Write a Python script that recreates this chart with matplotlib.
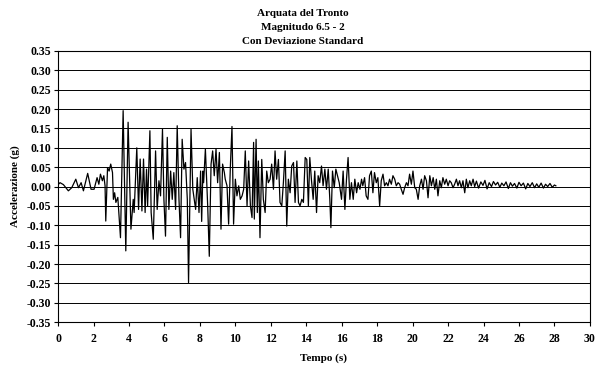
import numpy as np
import matplotlib
matplotlib.use("Agg")
from matplotlib import pyplot as plt
from matplotlib.ticker import MultipleLocator

# accelerogram turning points (time s, acceleration g)
tempo = [0.00, 0.11, 0.30, 0.58, 0.77, 1.00, 1.15, 1.30, 1.43, 1.67, 1.86, 2.03,
         2.20, 2.30, 2.39, 2.50, 2.58, 2.65, 2.69, 2.79, 2.88, 2.97, 3.07, 3.12,
         3.19, 3.26, 3.37, 3.52, 3.67, 3.82, 3.95, 4.11, 4.24, 4.29, 4.44, 4.54,
         4.63, 4.73, 4.82, 4.91, 4.99, 5.05, 5.18, 5.25, 5.37, 5.50, 5.59, 5.69,
         5.78, 5.89, 5.97, 6.06, 6.16, 6.25, 6.35, 6.44, 6.53, 6.63, 6.72, 6.82,
         6.91, 7.00, 7.10, 7.19, 7.29, 7.36, 7.50, 7.60, 7.76, 7.85, 7.95, 8.04,
         8.10, 8.17, 8.21, 8.31, 8.44, 8.53, 8.63, 8.72, 8.81, 8.91, 9.00, 9.10,
         9.19, 9.28, 9.38, 9.43, 9.53, 9.62, 9.72, 9.81, 9.90, 10.00, 10.09, 10.19,
         10.28, 10.38, 10.47, 10.56, 10.66, 10.75, 10.85, 10.94, 11.03, 11.07, 11.17, 11.24,
         11.30, 11.39, 11.49, 11.58, 11.68, 11.77, 11.86, 11.96, 12.05, 12.15, 12.24, 12.33,
         12.43, 12.52, 12.62, 12.71, 12.81, 12.90, 12.99, 13.09, 13.18, 13.28, 13.37, 13.47,
         13.56, 13.65, 13.75, 13.84, 13.94, 14.03, 14.12, 14.20, 14.29, 14.39, 14.48, 14.58,
         14.67, 14.76, 14.86, 14.95, 15.05, 15.14, 15.24, 15.33, 15.39, 15.48, 15.58, 15.67,
         15.76, 15.86, 15.99, 16.08, 16.18, 16.27, 16.36, 16.46, 16.55, 16.65, 16.74, 16.84,
         16.93, 17.03, 17.12, 17.19, 17.29, 17.38, 17.48, 17.57, 17.67, 17.76, 17.85, 17.95,
         18.04, 18.14, 18.23, 18.33, 18.42, 18.52, 18.61, 18.70, 18.80, 18.89, 18.99, 19.08,
         19.18, 19.27, 19.36, 19.46, 19.55, 19.65, 19.74, 19.83, 19.93, 20.02, 20.12, 20.21,
         20.31, 20.40, 20.50, 20.59, 20.68, 20.78, 20.87, 20.97, 21.06, 21.16, 21.25, 21.34,
         21.43, 21.53, 21.62, 21.71, 21.81, 21.90, 22.00, 22.09, 22.18, 22.28, 22.37, 22.47,
         22.56, 22.65, 22.75, 22.84, 22.94, 23.03, 23.12, 23.22, 23.31, 23.41, 23.50, 23.60,
         23.72, 23.85, 23.97, 24.08, 24.20, 24.32, 24.45, 24.56, 24.68, 24.80, 24.92, 25.03,
         25.15, 25.27, 25.40, 25.52, 25.63, 25.75, 25.88, 26.00, 26.12, 26.25, 26.38, 26.50,
         26.62, 26.75, 26.88, 27.00, 27.12, 27.25, 27.38, 27.50, 27.62, 27.75, 27.88, 28.00,
         28.08]
accel = [0.005, 0.010, 0.005, -0.011, -0.003, 0.019, -0.003, 0.010, -0.011, 0.034, -0.007, -0.007,
         0.023, 0.006, 0.032, 0.015, 0.028, 0.002, -0.089, 0.049, 0.040, 0.058, 0.036, -0.033,
         -0.016, -0.041, -0.028, -0.132, 0.196, -0.166, 0.166, -0.110, -0.033, -0.067, 0.100, -0.059,
         0.071, -0.063, 0.071, -0.067, 0.045, -0.050, 0.144, -0.067, -0.136, 0.092, -0.059, 0.015,
         -0.024, 0.148, -0.033, -0.128, 0.127, -0.059, 0.040, -0.033, 0.036, -0.059, 0.157, -0.033,
         -0.132, 0.122, 0.045, 0.062, -0.033, -0.248, 0.148, -0.007, -0.059, 0.023, -0.067, 0.040,
         -0.090, 0.040, 0.010, 0.097, -0.050, -0.180, 0.058, 0.092, 0.028, 0.097, 0.010, 0.088,
         -0.110, 0.058, 0.036, 0.019, 0.002, -0.097, 0.053, 0.155, -0.097, 0.019, -0.024, 0.002,
         -0.033, -0.024, -0.007, 0.092, -0.050, 0.066, -0.050, -0.080, 0.114, -0.084, 0.122, -0.067,
         0.066, -0.132, 0.070, -0.033, -0.067, 0.040, 0.010, 0.019, 0.058, -0.007, 0.092, 0.019,
         0.070, -0.041, -0.050, 0.010, 0.092, -0.102, 0.019, -0.016, 0.053, 0.062, -0.041, 0.066,
         -0.041, -0.050, -0.033, -0.041, 0.075, 0.070, -0.050, 0.075, 0.019, -0.033, 0.040, -0.067,
         0.028, 0.010, 0.053, 0.002, 0.045, -0.007, 0.045, -0.033, -0.106, 0.040, -0.003, 0.045,
         0.028, 0.010, -0.033, 0.040, -0.059, 0.019, 0.075, -0.033, 0.010, -0.033, 0.019, -0.016,
         0.010, -0.007, 0.019, 0.002, 0.023, -0.024, -0.033, 0.028, 0.040, -0.016, 0.036, 0.010,
         0.023, -0.050, 0.015, 0.032, 0.002, 0.010, 0.002, 0.019, 0.006, 0.028, 0.019, 0.002,
         0.010, 0.006, -0.007, -0.020, -0.003, 0.010, 0.002, 0.032, 0.006, 0.040, -0.003, -0.007,
         -0.033, 0.002, 0.019, -0.007, 0.028, 0.015, -0.029, 0.028, 0.002, 0.023, -0.007, 0.019,
         -0.024, 0.015, -0.003, 0.023, 0.006, 0.019, 0.002, 0.015, 0.010, -0.003, 0.006, 0.019,
         0.002, 0.015, -0.003, 0.015, -0.016, 0.019, -0.003, 0.015, 0.002, 0.019, 0.000, 0.014,
         -0.004, 0.012, 0.003, 0.016, -0.006, 0.010, 0.000, 0.013, 0.004, 0.011, -0.002, 0.009,
         0.002, 0.012, -0.005, 0.010, 0.001, 0.008, -0.004, 0.011, 0.002, 0.009, -0.006, 0.008,
         0.000, 0.010, -0.003, 0.007, -0.002, 0.009, -0.004, 0.006, 0.000, 0.008, -0.002, 0.004,
         0.002]

y_ticks = [-0.35, -0.30, -0.25, -0.20, -0.15, -0.10, -0.05, 0.00,
           0.05, 0.10, 0.15, 0.20, 0.25, 0.30, 0.35]

titolo = "Arquata del Tronto\nMagnitudo 6.5 - 2\nCon Deviazione Standard"

plt.rcParams['font.family'] = ['Liberation Serif', 'DejaVu Serif']
plt.rcParams['font.weight'] = 'bold'

fig = plt.figure(figsize=(6.05, 3.72), dpi=100)
ax = fig.add_axes([0.096, 0.134, 0.879, 0.729])

ax.plot(tempo, accel, color='black', linewidth=0.9)

ax.set_xlim(0, 30)
ax.set_ylim(-0.35, 0.35)
ax.xaxis.set_major_locator(MultipleLocator(2))
ax.set_yticks(y_ticks)
ax.set_yticklabels(['%.2f' % abs(v) if v == 0 else '%.2f' % v for v in y_ticks])
ax.grid(axis='y', color='black', linewidth=0.7)
ax.tick_params(direction='out', length=3, width=0.8, labelsize=8.5, pad=2)
ax.tick_params(axis='x', pad=5)
for s in ax.spines.values():
    s.set_linewidth(0.8)
    s.set_color('black')

# title centred on the whole figure, like the original
fig.text(0.5, 0.977, titolo, ha='center', va='top', fontsize=8,
         fontweight='bold', linespacing=1.75)
ax.set_xlabel("Tempo (s)", fontsize=8, fontweight='bold', labelpad=6)
ax.set_ylabel("Accelerazione (g)", fontsize=8, fontweight='bold', labelpad=5)

fig.savefig("out.png", dpi=100)
